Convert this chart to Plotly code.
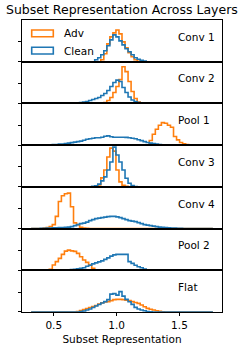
import numpy as np
import plotly.graph_objects as go
from plotly.subplots import make_subplots

# ---- data (density per bin) ----
BIN_LO, BIN_HI, N_BINS = 0.32, 1.766, 60
layers = ["Conv 1", "Conv 2", "Pool 1", "Conv 3", "Conv 4", "Pool 2", "Flat"]
x_ticks = [0.5, 1.0, 1.5]
x_tick_labels = ["0.5", "1.0", "1.5"]

# (index of first non-empty bin, values)
conv1_adv = (23, [2, 8, 18, 25, 29, 32, 28, 20, 14, 9, 5, 2, 0.5])
conv1_clean = (21, [2, 4, 7, 11, 16, 22, 27, 25, 21, 17, 13, 10, 7, 4, 2.5, 1.5, 0.7])
conv2_adv = (24, [1, 3, 6, 11, 17, 24, 37, 32, 22, 12, 5, 1.5, 0.5])
conv2_clean = (15, [0.5, 1, 1.5, 2, 3, 4, 5, 6, 8, 10, 13, 17, 21, 23.5, 22, 16, 11, 6.5, 3.5, 2, 1, 0.5])
pool1_adv = (39, [4.7, 11, 16, 20, 22.7, 22, 20, 18, 8.7, 5.3, 2.7, 1.3, 0.7])
pool1_clean = (7, [0.5, 0.5, 1, 1, 1.5, 2, 2.5, 3, 3.5, 4, 5, 6, 6.5, 7, 7.5, 7.5, 8, 9, 9.3, 8.5,
                   8, 8, 8, 8, 7.8, 7.5, 7, 6.5, 5.5, 4.5, 3.5, 2.7, 2, 1.5, 1, 0.5, 0.3])
conv3_adv = (21, [0.5, 2, 9, 17, 30, 39, 36, 17, 5, 1.5, 0.5])
conv3_clean = (20, [0.5, 1, 2.7, 6, 10, 17, 25, 40, 32, 25, 17, 8.7, 3.7, 1.3, 0.3])
conv4_adv = (4, [0.5, 1, 2, 4, 12.3, 27.3, 33, 35, 35.7, 22, 5.7, 4, 1.3, 0.6, 0.3])
conv4_clean = (3, [0.3, 0.3, 0.5, 0.5, 0.7, 0.8, 1, 1, 1.2, 1.5, 2, 3, 4, 5, 5.5, 6.5, 8, 9, 10, 10.5,
                   11, 11.5, 12, 12.3, 12.3, 11.8, 11, 10, 9, 8, 7.5, 7, 6, 5, 4, 3.5, 3, 2.5, 2, 1.5,
                   1.2, 1, 0.8, 0.6, 0.5, 0.3, 0.2])
pool2_adv = (5, [0.3, 1, 5.3, 8.7, 12, 16, 19.3, 20.3, 19.5, 19, 17, 13.7, 10.3, 8, 5.3, 2, 0.5])
pool2_clean = (10, [0.3, 0.5, 0.5, 0.7, 1, 1.5, 2, 2.5, 4, 5, 6.5, 7.5, 8.5, 9.5, 11, 12.5, 14.3, 15.5,
                    16, 16, 16, 16, 8.7, 7, 5, 3.5, 2.5, 1.3, 0.6, 0.3])
flat_adv = (15, [0.5, 1.5, 2.5, 3.5, 4.5, 5.5, 6.5, 8, 9.3, 10, 10.5, 11.5, 12.5, 12.7, 12.7, 12.5, 12,
                 11.5, 10.5, 9.5, 8.7, 7, 5.3, 3.7, 2.7, 2, 1.3, 0.8, 0.3])
flat_clean = (16, [0.5, 1, 2, 3, 4.5, 6, 7.5, 9, 10.5, 12.5, 18, 18.5, 17, 20.5, 16, 12.7, 10.3, 7.7,
                   4.7, 3, 2, 1.3, 0.5, 0.2])

adv_series = [conv1_adv, conv2_adv, pool1_adv, conv3_adv, conv4_adv, pool2_adv, flat_adv]
clean_series = [conv1_clean, conv2_clean, pool1_clean, conv3_clean, conv4_clean, pool2_clean, flat_clean]

ORANGE = "#ff7f0e"
BLUE = "#1f77b4"
FONT = "DejaVu Sans"

edges = np.linspace(BIN_LO, BIN_HI, N_BINS + 1)


def full_counts(series):
    start, vals = series
    c = np.zeros(N_BINS)
    c[start:start + len(vals)] = vals
    return c


def step_xy(counts):
    x = np.concatenate([[edges[0]], edges[:-1], [edges[-1]]])
    y = np.concatenate([[0.0], counts, [0.0]])
    return x, y


n = len(layers)
fig = make_subplots(rows=n, cols=1, shared_xaxes=True, vertical_spacing=0)

ymax = 0
for i in range(n):
    for series, color in ((adv_series[i], ORANGE), (clean_series[i], BLUE)):
        c = full_counts(series)
        ymax = max(ymax, c.max())
        x, y = step_xy(c)
        fig.add_trace(go.Scatter(x=x, y=y, mode="lines", line=dict(color=color, width=1.6, shape="hv"),
                                 showlegend=False, hoverinfo="skip"), row=i + 1, col=1)

w = BIN_HI - BIN_LO
xr = [BIN_LO - 0.05 * w, BIN_HI + 0.05 * w]
yr = [0, 1.05 * ymax]

for i in range(n):
    last = (i == n - 1)
    fig.update_xaxes(row=i + 1, col=1, range=xr, showline=True, mirror=True, linecolor="black",
                     linewidth=1, showgrid=False, zeroline=False,
                     ticks="outside" if last else "", ticklen=3, tickcolor="black",
                     tickvals=x_ticks, ticktext=x_tick_labels, showticklabels=last,
                     tickfont=dict(family=FONT, size=10.5, color="black"))
    fig.update_yaxes(row=i + 1, col=1, range=yr, showline=True, mirror=True, linecolor="black",
                     linewidth=1, showgrid=False, zeroline=False, ticks="outside", ticklen=3,
                     tickcolor="black", tickvals=[0, 20], showticklabels=False)
    yref = "y domain" if i == 0 else f"y{i + 1} domain"
    xref = "x domain" if i == 0 else f"x{i + 1} domain"
    fig.add_annotation(text=layers[i], xref=xref, yref=yref, x=0.77, y=0.6, xanchor="left",
                       yanchor="middle", showarrow=False,
                       font=dict(family=FONT, size=10.5, color="black"))

# legend drawn in the first panel
for label, color, y0, y1 in (("Adv", ORANGE, 0.60, 0.76), ("Clean", BLUE, 0.185, 0.345)):
    fig.add_shape(type="rect", xref="x domain", yref="y domain", x0=0.0485, x1=0.1565, y0=y0, y1=y1,
                  line=dict(color=color, width=1.6), fillcolor="rgba(0,0,0,0)")
    fig.add_annotation(text=label, xref="x domain", yref="y domain", x=0.1985, y=(y0 + y1) / 2,
                       xanchor="left", yanchor="middle", showarrow=False,
                       font=dict(family=FONT, size=10.5, color="black"))

fig.add_annotation(text="Subset Representation Across Layers", xref="paper", yref="paper",
                   x=0.5, y=1, yanchor="bottom", yshift=1, showarrow=False,
                   font=dict(family=FONT, size=12.5, color="black"))
fig.update_xaxes(row=n, col=1, title=dict(text="Subset Representation", standoff=9,
                                          font=dict(family=FONT, size=10.5, color="black")),
                 automargin=False)

fig.update_layout(width=247, height=345, margin=dict(l=22, r=25, t=20, b=33),
                  plot_bgcolor="white", paper_bgcolor="white", showlegend=False)

fig.write_html("out.html", config={"displayModeBar": False},
               post_script="document.body.style.margin='0';")
